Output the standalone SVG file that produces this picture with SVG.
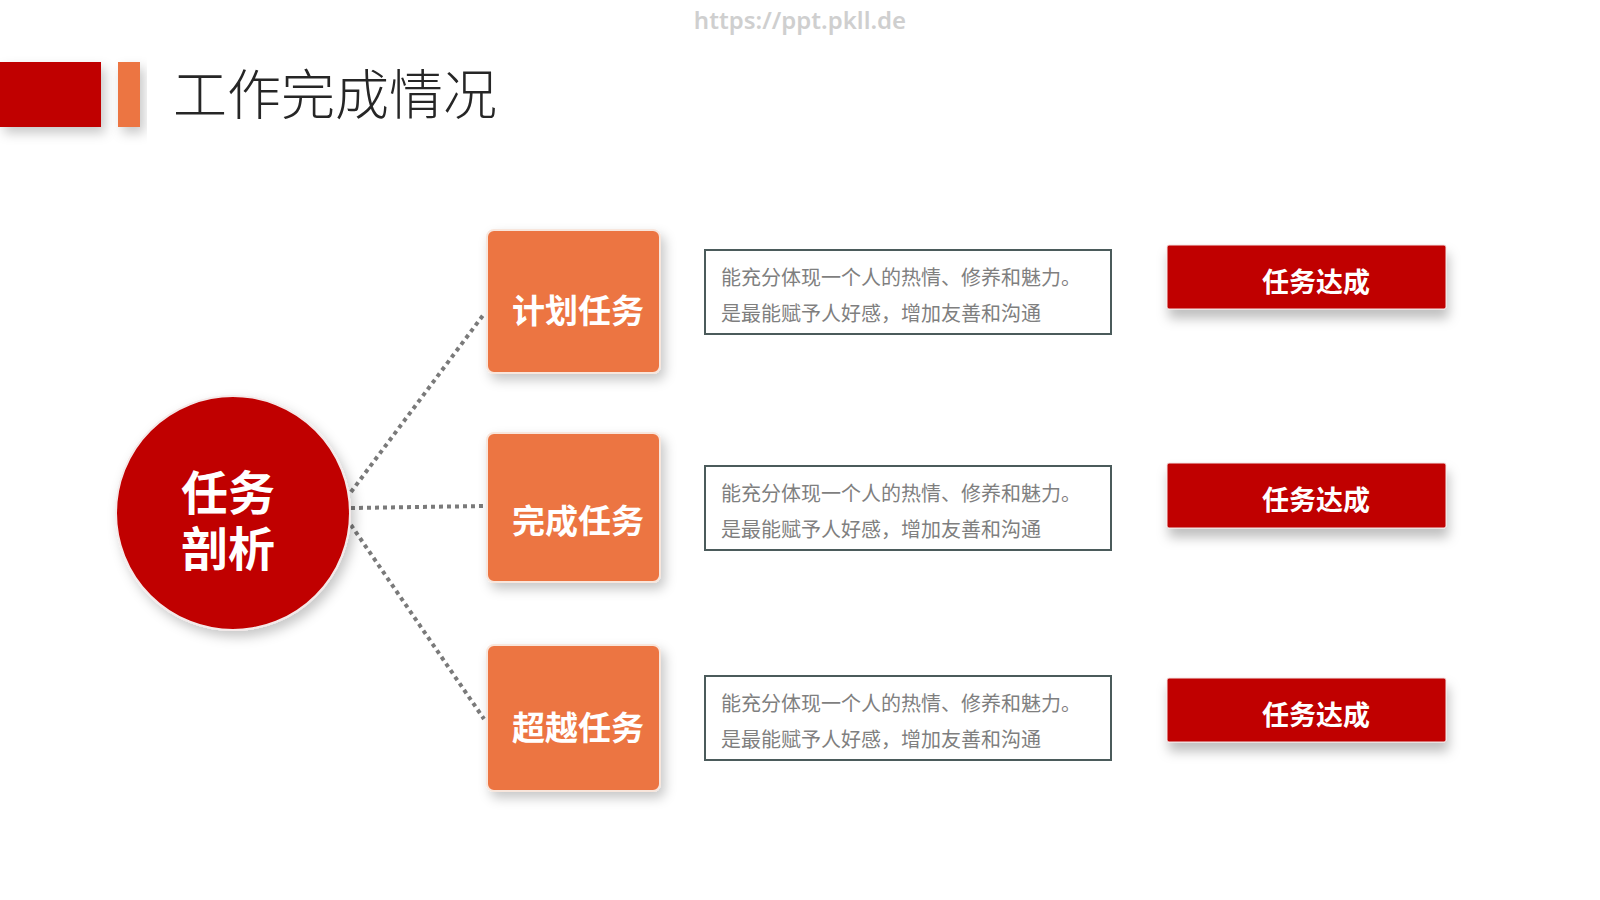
<svg xmlns="http://www.w3.org/2000/svg" width="1600" height="900" viewBox="0 0 1600 900">
<style>
.title{font-family:"Noto Sans CJK SC","Noto Sans",sans-serif;font-size:54px;fill:#262626;font-weight:300}
.wm{font-family:"Noto Sans","DejaVu Sans",sans-serif;font-size:24px;fill:#cfcfcf;font-weight:600}
.circ{font-family:"Noto Sans CJK SC",sans-serif;font-size:47px;fill:#fff;font-weight:bold}
.box{fill:#ec7443;stroke:#f8e6dc;stroke-width:2}
.boxt{font-family:"Noto Sans CJK SC",sans-serif;font-size:33px;fill:#fff;font-weight:bold}
.desc{fill:#fff;stroke:#4b5b5b;stroke-width:2}
.desct{font-family:"Noto Sans CJK SC",sans-serif;font-size:20px;fill:#7f7f7f}
.btn{fill:#c00000;stroke:#f3e3e3;stroke-width:1}
.btnt{font-family:"Noto Sans CJK SC",sans-serif;font-size:27px;fill:#fff;font-weight:bold}
.conn{stroke:#7a7a7a;stroke-width:4;stroke-dasharray:4 4;fill:none}
</style>
<defs>
<filter id="sh" x="-30%" y="-30%" width="160%" height="170%">
<feDropShadow dx="4" dy="6" stdDeviation="6" flood-color="#000" flood-opacity="0.22"/>
</filter>
<filter id="sh2" x="-20%" y="-30%" width="140%" height="190%">
<feDropShadow dx="2" dy="9" stdDeviation="6" flood-color="#000" flood-opacity="0.25"/>
</filter>
</defs>
<rect width="1600" height="900" fill="#fff"/>
<text class="wm" x="800" y="29" text-anchor="middle">https://ppt.pkll.de</text>
<g id="header">
<rect x="0" y="62" width="101" height="65" fill="#c00000" filter="url(#sh)"/>
<rect x="118" y="62" width="22" height="65" fill="#ec7443" filter="url(#sh)"/>
<text class="title" x="173" y="115">工作完成情况</text>
</g>
<g id="connectors">
<line class="conn" x1="351" y1="492" x2="484" y2="314"/>
<line class="conn" x1="351" y1="508" x2="484" y2="506"/>
<line class="conn" x1="351" y1="525" x2="484" y2="719"/>
</g>
<g id="center">
<circle cx="233" cy="513" r="117" fill="#c00000" stroke="#f4e9e9" stroke-width="2" filter="url(#sh)"/>
<text class="circ" text-anchor="middle"><tspan x="228" y="510">任务</tspan><tspan x="228" y="566">剖析</tspan></text>
</g>
<g id="task1">
<rect class="box" x="487" y="230" width="173" height="143" rx="7" filter="url(#sh)"/>
<text class="boxt" x="578" y="323" text-anchor="middle">计划任务</text>
</g>
<g id="task2">
<rect class="box" x="487" y="433" width="173" height="149" rx="7" filter="url(#sh)"/>
<text class="boxt" x="578" y="533" text-anchor="middle">完成任务</text>
</g>
<g id="task3">
<rect class="box" x="487" y="645" width="173" height="146" rx="7" filter="url(#sh)"/>
<text class="boxt" x="578" y="740" text-anchor="middle">超越任务</text>
</g>
<g id="desc1">
<rect class="desc" x="705" y="250" width="406" height="84"/>
<text class="desct" x="721" y="285">能充分体现一个人的热情、修养和魅力。</text>
<text class="desct" x="721" y="321">是最能赋予人好感，增加友善和沟通</text>
</g>
<g id="desc2">
<rect class="desc" x="705" y="466" width="406" height="84"/>
<text class="desct" x="721" y="501">能充分体现一个人的热情、修养和魅力。</text>
<text class="desct" x="721" y="537">是最能赋予人好感，增加友善和沟通</text>
</g>
<g id="desc3">
<rect class="desc" x="705" y="676" width="406" height="84"/>
<text class="desct" x="721" y="711">能充分体现一个人的热情、修养和魅力。</text>
<text class="desct" x="721" y="747">是最能赋予人好感，增加友善和沟通</text>
</g>
<g id="done1">
<rect class="btn" x="1167" y="245" width="279" height="64" rx="2" filter="url(#sh2)"/>
<text class="btnt" x="1316" y="292" text-anchor="middle">任务达成</text>
</g>
<g id="done2">
<rect class="btn" x="1167" y="463" width="279" height="65" rx="2" filter="url(#sh2)"/>
<text class="btnt" x="1316" y="510" text-anchor="middle">任务达成</text>
</g>
<g id="done3">
<rect class="btn" x="1167" y="678" width="279" height="64" rx="2" filter="url(#sh2)"/>
<text class="btnt" x="1316" y="725" text-anchor="middle">任务达成</text>
</g>
</svg>
